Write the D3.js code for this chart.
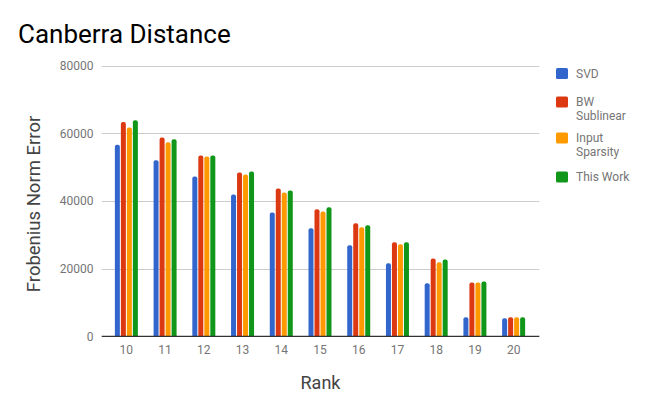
<!DOCTYPE html>
<html>
<head>
<meta charset="utf-8">
<script src="https://cdn.jsdelivr.net/npm/d3@7"></script>
<style>
  html, body { margin: 0; padding: 0; background: #fff; }
  svg { display: block; font-family: Roboto, "Noto Sans", Arial, sans-serif; }
</style>
</head>
<body>
<svg id="chart" width="646" height="399"></svg>
<script>
const ranks = ["10","11","12","13","14","15","16","17","18","19","20"];
const seriesNames = ["SVD", "BW Sublinear", "Input Sparsity", "This Work"];
const legendLines = [["SVD"], ["BW", "Sublinear"], ["Input", "Sparsity"], ["This Work"]];
const colors = ["#3366cc", "#dc3912", "#ff9900", "#109618"];
const svdValues       = [56600, 52000, 47200, 41900, 36600, 31900, 26900, 21600, 15700, 5600, 5300];
const bwValues        = [63300, 58700, 53400, 48400, 43700, 37500, 33400, 27800, 23000, 15900, 5600];
const inputValues     = [61700, 57300, 53100, 47800, 42500, 36900, 32200, 27200, 21900, 15900, 5600];
const thisWorkValues  = [63800, 58200, 53400, 48700, 43100, 38100, 32800, 27800, 22700, 16200, 5600];
const yTicks = [0, 20000, 40000, 60000, 80000];
const seriesValues = [svdValues, bwValues, inputValues, thisWorkValues];

const svg = d3.select("#chart");
const plotLeft = 101.7, plotRight = 539.3, plotTop = 65.5, plotBottom = 336.3;

const y = d3.scaleLinear().domain([0, 80000]).range([plotBottom, plotTop]);
const x = d3.scaleBand().domain(ranks).range([107, 533]).padding(0);
const inner = d3.scaleBand().domain(seriesNames).range([0, 23]).paddingInner(1/6).paddingOuter(0);

// Title
svg.append("text").attr("x", 18).attr("y", 43)
  .attr("font-size", 26).attr("fill", "#000").text("Canberra Distance");

// Gridlines
svg.append("g").selectAll("line").data(yTicks.filter(d => d !== 0)).join("line")
  .attr("x1", plotLeft).attr("x2", plotRight)
  .attr("y1", d => Math.round(y(d)) + 0.5).attr("y2", d => Math.round(y(d)) + 0.5)
  .attr("stroke", "#cccccc").attr("stroke-width", 1);

// Y axis labels
const yAxis = d3.axisLeft(y).tickValues(yTicks).tickSize(0).tickPadding(0).tickFormat(d3.format("d"));
const yg = svg.append("g").attr("transform", `translate(93.5,0)`).call(yAxis);
yg.select(".domain").remove();
yg.selectAll("text").attr("font-size", 12).attr("fill", "#757575").attr("font-family", "Roboto, sans-serif");

// Bars
function barPath(x0, w, top, bottom, r) {
  const h = bottom - top;
  r = Math.min(r, w / 2, h);
  return `M${x0},${bottom}V${top + r}Q${x0},${top} ${x0 + r},${top}H${x0 + w - r}Q${x0 + w},${top} ${x0 + w},${top + r}V${bottom}Z`;
}
const groups = svg.append("g").selectAll("g").data(ranks).join("g")
  .attr("transform", d => `translate(${x(d) + x.bandwidth() / 2 - 11.5},0)`);
groups.selectAll("path").data((d, i) => seriesNames.map((s, j) => ({ s, j, v: seriesValues[j][i] })))
  .join("path")
  .attr("d", d => barPath(inner(d.s), inner.bandwidth(), y(d.v), y(0), 2))
  .attr("fill", d => colors[d.j]);

// Baseline
svg.append("line").attr("x1", plotLeft).attr("x2", plotRight)
  .attr("y1", y(0)).attr("y2", y(0)).attr("stroke", "#333333").attr("stroke-width", 1.2);

// X axis labels
const xAxis = d3.axisBottom(x).tickSize(0).tickPadding(0);
const xg = svg.append("g").attr("transform", `translate(0,345)`).call(xAxis);
xg.select(".domain").remove();
xg.selectAll("text").attr("font-size", 12).attr("fill", "#757575").attr("font-family", "Roboto, sans-serif");

// Axis titles
svg.append("text").attr("x", 320.5).attr("y", 388.5).attr("text-anchor", "middle")
  .attr("font-size", 18).attr("fill", "#444").text("Rank");
svg.append("text").attr("transform", "translate(40,204) rotate(-90)").attr("text-anchor", "middle")
  .attr("font-size", 18.5).attr("fill", "#444").text("Frobenius Norm Error");

// Legend
const legendY = [73.5, 102, 138, 177];
const lg = svg.append("g").selectAll("g").data(seriesNames).join("g")
  .attr("transform", (d, i) => `translate(556,${legendY[i]})`);
lg.append("rect").attr("x", 0).attr("y", -5.5).attr("width", 12).attr("height", 11).attr("rx", 1.5)
  .attr("fill", (d, i) => colors[i]);
lg.each(function(d, i) {
  const t = d3.select(this).append("text").attr("x", 20).attr("y", 4.3)
    .attr("font-size", 12).attr("fill", "#757575");
  legendLines[i].forEach((line, k) => {
    t.append("tspan").attr("x", 20).attr("dy", k === 0 ? 0 : 14).text(line);
  });
});
</script>
</body>
</html>
